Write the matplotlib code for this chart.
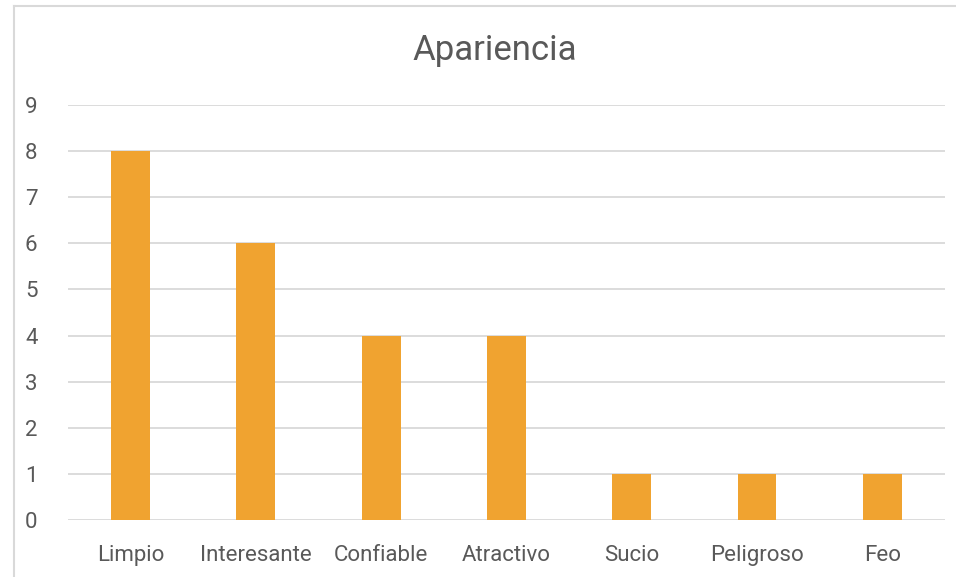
import matplotlib.pyplot as plt
from matplotlib.lines import Line2D

categories = ['Limpio', 'Interesante', 'Confiable', 'Atractivo', 'Sucio', 'Peligroso', 'Feo']
values = [8, 6, 4, 4, 1, 1, 1]
yticks = list(range(0, 10))

plt.rcParams['font.family'] = ['Roboto', 'Liberation Sans', 'DejaVu Sans']
text_color = '#595959'
grid_color = '#d9d9d9'

fig = plt.figure(figsize=(9.56, 5.77), dpi=100)
ax = fig.add_axes([0.0711, 0.0988, 0.9174, 0.7192])

ax.bar(range(len(categories)), values, width=0.31, color='#f0a330', zorder=3)
ax.set_xlim(-0.5, len(categories) - 0.5)
ax.set_ylim(0, 9)
ax.set_yticks(yticks)
ax.set_xticks(range(len(categories)))
ax.set_xticklabels(categories)
ax.yaxis.grid(True, color=grid_color, linewidth=1.3, zorder=0)
for s in ax.spines.values():
    s.set_visible(False)
ax.tick_params(axis='both', length=0, labelsize=16, colors=text_color)
ax.tick_params(axis='x', pad=18)
ax.tick_params(axis='y', pad=22)

fig.text(0.517, 0.912, 'Apariencia', ha='center', va='center', fontsize=25,
         color=text_color)

# outer chart border
fig.add_artist(Line2D([14 / 956, 14 / 956], [0, 1 - 6 / 577], color=grid_color, linewidth=1.5))
fig.add_artist(Line2D([14 / 956, 1], [1 - 6 / 577, 1 - 6 / 577], color=grid_color, linewidth=1.5))

fig.savefig('out.png', dpi=100)
